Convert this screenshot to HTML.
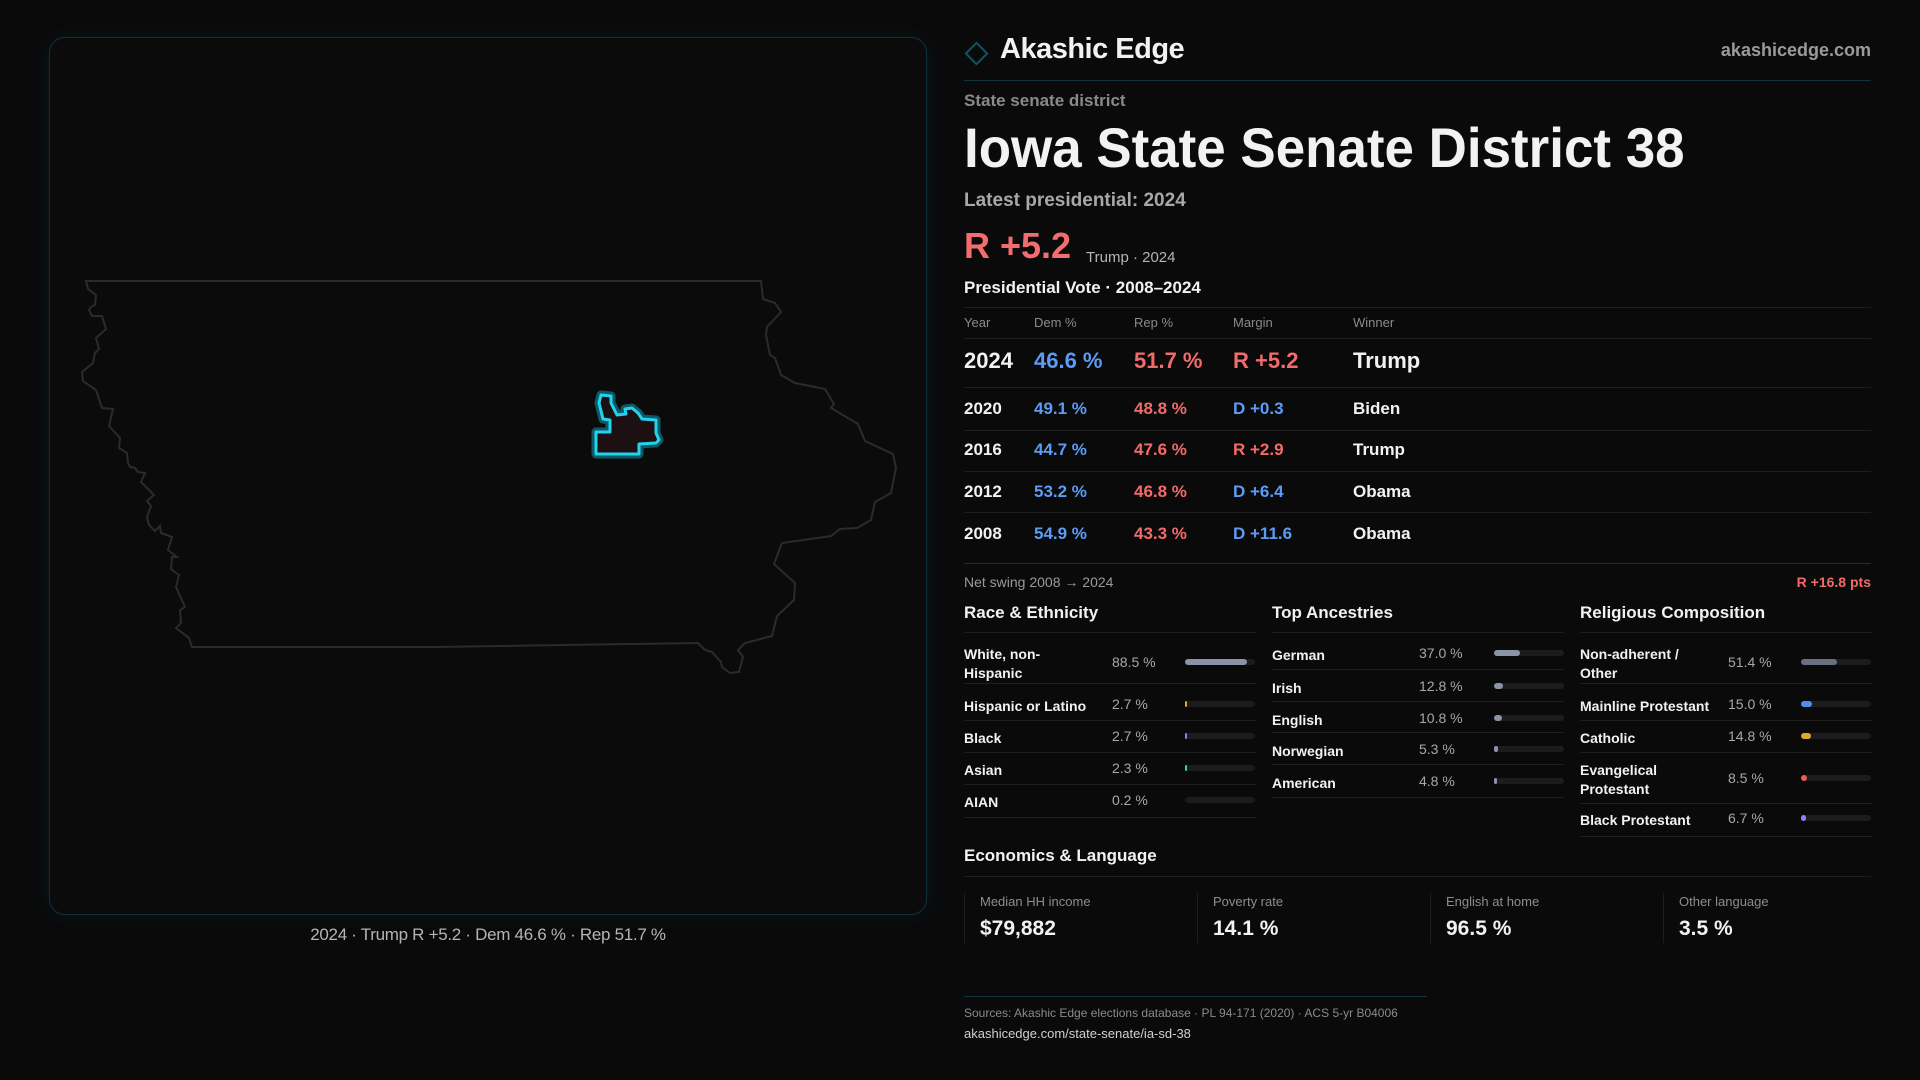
<!DOCTYPE html>
<html><head><meta charset="utf-8">
<style>
*{margin:0;padding:0;box-sizing:border-box}
body{width:1920px;height:1080px;background:#0a0a0b;font-family:"Liberation Sans",sans-serif;color:#f2f2f2;position:relative;overflow:hidden}
.a{position:absolute;line-height:1;white-space:nowrap}
.hl{position:absolute;height:1px;background:#1f1f22}
.g{color:#8d8d8d}
.b{color:#5b9cf5}.r{color:#f26b6b}
</style></head><body>
<div style="position:absolute;left:49px;top:37px;width:878px;height:878px;border:1px solid #113138;border-radius:16px;background:#0b0b0c;box-shadow:0 0 18px rgba(20,120,140,0.12)"></div>
<svg width="1920" height="1080" style="position:absolute;left:0;top:0">
<polygon fill="none" stroke="#2b2b2e" stroke-width="2" points="86,281 761,281 763,299 775,303 781,312 767,327 766,335 770,355 775,358 781,375 795,383 825,389 834,404 831,408 858,424 865,441 893,454 896,468 891,493 875,502 871,520 857,528 840,529 831,536 782,543 774,564 795,583 794,600 777,616 772,636 745,643 738,650 743,657 739,672 730,673 722,667 721,662 712,652 705,650 698,643 433,647 192,647 189,638 176,628 181,623 180,610 185,607 176,587 179,575 171,569 172,557 177,557 168,550 172,537 161,533 160,526 155,531 149,525 147,517 151,506 147,501 154,495 141,482 145,473 138,472 135,468 130,467 128,463 127,453 119,448 120,438 109,426 113,409 102,408 96,390 83,381 82,372 93,363 95,353 99,349 96,338 106,329 102,316 92,316 89,310 91,307 95,305 96,295 88,289"/>
<polygon fill="none" stroke="#0f5864" stroke-width="9" stroke-linejoin="round" points="601,395 611,396 611,403 617,415 626,414 625,409 632,408 638,413 642,419 656,420 656,433 659,440 656,443 639,444 639,454 596,454 596,432 610,432 610,420 603,419 599,403"/>
<polygon fill="#1d1012" stroke="#22d3ee" stroke-width="3" stroke-linejoin="round" points="601,395 611,396 611,403 617,415 626,414 625,409 632,408 638,413 642,419 656,420 656,433 659,440 656,443 639,444 639,454 596,454 596,432 610,432 610,420 603,419 599,403"/>
</svg>
<div class="a" style="left:0;width:976px;text-align:center;top:926px;font-size:17px;color:#b5b5b5;letter-spacing:-0.3px">2024 · Trump R +5.2 · Dem 46.6 % · Rep 51.7 %</div>

<div style="position:absolute;left:968px;top:45px;width:17px;height:17px;border:2px solid #0e5560;transform:rotate(45deg)"></div>
<div class="a" style="left:1000px;top:35px;font-size:29px;font-weight:bold;letter-spacing:-0.5px">Akashic Edge</div>
<div class="a" style="right:49px;top:41px;font-size:18px;color:#9a9a9a;font-weight:bold">akashicedge.com</div>
<div class="hl" style="left:964px;width:907px;top:80px;background:#10353b"></div>
<div class="a g" style="left:964px;top:92px;font-size:17px;font-weight:bold;color:#8a8a8a">State senate district</div>
<div class="a" style="left:964px;top:120px;font-size:56px;font-weight:bold;transform:scaleX(0.945);transform-origin:left">Iowa State Senate District 38</div>
<div class="a" style="left:964px;top:191px;font-size:19px;font-weight:bold;color:#a8a8a8">Latest presidential: 2024</div>
<div class="a r" style="left:964px;top:228px;font-size:36px;font-weight:bold;color:#f26d6d">R +5.2</div>
<div class="a" style="left:1086px;top:250px;font-size:15px;color:#b5b5b5">Trump · 2024</div>
<div class="a" style="left:964px;top:279px;font-size:17px;font-weight:bold">Presidential Vote · 2008–2024</div>
<div class="hl" style="left:964px;width:907px;top:307px"></div>
<div id="tbl"></div>
<div class="hl" style="left:964px;width:907px;top:563px;background:#2a2a2e"></div>
<div class="a g" style="left:964px;top:575px;font-size:14px;color:#9a9a9a">Net swing 2008 → 2024</div>
<div class="a r" style="right:49px;top:575px;font-size:14px;font-weight:bold">R +16.8 pts</div>
<div id="demo"></div>

<div class="a" style="left:964px;top:847px;font-size:17px;font-weight:bold">Economics &amp; Language</div>
<div class="hl" style="left:964px;width:907px;top:876px"></div>
<div id="econ"></div>
<div class="hl" style="left:964px;width:463px;top:996px;background:#10353b"></div>
<div class="a" style="left:964px;top:1007px;font-size:12px;color:#8a8a8a">Sources: Akashic Edge elections database · PL 94-171 (2020) · ACS 5-yr B04006</div>
<div class="a" style="left:964px;top:1027px;font-size:13px;color:#d0d0d0">akashicedge.com/state-senate/ia-sd-38</div>

<script>
const years=["2024","2020","2016","2012","2008"];
const demPct=[46.6,49.1,44.7,53.2,54.9];
const repPct=[51.7,48.8,47.6,46.8,43.3];
const margins=[5.2,-0.3,2.9,-6.4,-11.6];
const winners=["Trump","Biden","Trump","Obama","Obama"];

const raceLabels=["White, non-\nHispanic","Hispanic or Latino","Black","Asian","AIAN"];
const raceValues=[88.5,2.7,2.7,2.3,0.2];
const ancLabels=["German","Irish","English","Norwegian","American"];
const ancValues=[37.0,12.8,10.8,5.3,4.8];
const relLabels=["Non-adherent /\nOther","Mainline Protestant","Catholic","Evangelical\nProtestant","Black Protestant"];
const relValues=[51.4,15.0,14.8,8.5,6.7];

const econLabels=["Median HH income","Poverty rate","English at home","Other language"];
const econValues=["$79,882","14.1 %","96.5 %","3.5 %"];

function mk(parent,css,text){const d=document.createElement('div');d.className='a';d.style.cssText=css;if(text!==undefined)d.textContent=text;parent.appendChild(d);return d;}

const tbl=document.getElementById('tbl');
const cols=[964,1034,1134,1233,1353];
const heads=["Year","Dem %","Rep %","Margin","Winner"];
heads.forEach((h,i)=>{const e=mk(tbl,`left:${cols[i]}px;top:316px;font-size:13px;color:#8a8a8a`,h);

});
mk(tbl,'left:964px;top:338px;width:907px;height:1px;background:#1f1f22');
const rowCenters=[361,408,449,491,533];
const rowRules=[387,430,471,512,553];
years.forEach((y,i)=>{
  const fs=i===0?22:17, top=rowCenters[i]-fs/2;
  const m=margins[i];
  const mt=(m>0?"R +":"D +")+Math.abs(m).toFixed(1);
  const vals=[y,demPct[i].toFixed(1)+" %",repPct[i].toFixed(1)+" %",mt,winners[i]];
  const colors=["#f2f2f2","#5b9cf5","#f26b6b",m>0?"#f26b6b":"#5b9cf5","#f2f2f2"];
  vals.forEach((v,j)=>{const e=mk(tbl,`left:${cols[j]}px;top:${top}px;font-size:${fs}px;font-weight:bold;color:${colors[j]}`,v);
  
  });
  if(i<4){mk(tbl,`left:964px;top:${rowRules[i]}px;width:907px;height:1px;background:#1f1f22`);}
});

const demo=document.getElementById('demo');
function section(x,title,labels,values,colors,centers,rules,pctX,barX){
  const t=mk(demo,`left:${x}px;top:604px;font-size:17px;font-weight:bold`,title);
  
  
  mk(demo,`left:${x}px;top:632px;width:292px;height:1px;background:#1f1f22`);
  labels.forEach((lab,i)=>{
    const two=lab.includes("\n");
    const l=mk(demo,`left:${x}px;top:${centers[i]-(two?17:7)}px;font-size:14px;font-weight:bold;line-height:19px;white-space:pre`,lab);
    
    
    const p=mk(demo,`left:${pctX}px;top:${centers[i]-7}px;font-size:14px;color:#a8a8a8`,values[i].toFixed(1)+" %");
    
    
    const track=mk(demo,`left:${barX}px;top:${centers[i]-3}px;width:70px;height:6px;border-radius:3px;background:#1c1c1f`);
    
    
    const w=Math.max(2,70*values[i]/100);
    const f=document.createElement('div');
    f.style.cssText=`position:absolute;left:0;top:0;height:6px;width:${values[i]<1?0:w}px;border-radius:3px;background:${colors[i]}`;
    
    
    track.appendChild(f);
    mk(demo,`left:${x}px;top:${rules[i]}px;width:292px;height:1px;background:#1f1f22`);
  });
}
section(964,"Race & Ethnicity",raceLabels,raceValues,["#8a94a6","#e0a82e","#8b7cf6","#34d399","#555"],[662,704,736,768,800],[683,720,752,784,817],1112,1185);
section(1272,"Top Ancestries",ancLabels,ancValues,["#8a94a6","#8a94a6","#8a94a6","#8a94a6","#8a94a6"],[653,686,718,749,781],[669,701,732,764,797],1419,1494);
section(1580,"Religious Composition",relLabels,relValues,["#6b7080","#4f8fe8","#e0a82e","#ef5a5a","#9b7cf6"],[662,704,736,778,818],[683,720,752,803,836],1728,1801);

const econ=document.getElementById('econ');
econLabels.forEach((lab,i)=>{
  const x=964+i*233;
  mk(econ,`left:${x}px;top:893px;width:1px;height:50px;background:#1f1f22`);
  const l=mk(econ,`left:${x+16}px;top:895px;font-size:13px;color:#8d8d8d`,lab);
  
  
  const v=mk(econ,`left:${x+16}px;top:918px;font-size:21px;font-weight:bold`,econValues[i]);
  
  
});
</script>
</body></html>
